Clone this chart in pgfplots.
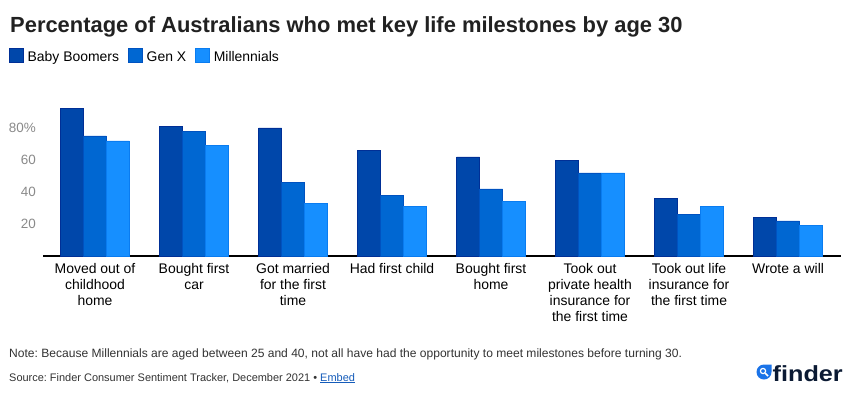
\documentclass[border=0pt]{standalone}
\usepackage{pgfplots}
\pgfplotsset{compat=1.18}
\usepackage{fontspec}
\setmainfont{Liberation Sans}
\frenchspacing
\newcommand\fs[2]{\fontsize{#1}{#2}\selectfont}
\definecolor{bb}{HTML}{0047AA}
\definecolor{bbE}{HTML}{002F96}
\definecolor{gx}{HTML}{0067D2}
\definecolor{gxE}{HTML}{0052C0}
\definecolor{ml}{HTML}{168FFF}
\definecolor{mlE}{HTML}{0A7CF0}
\definecolor{ticky}{HTML}{8A8A8A}
\definecolor{notec}{HTML}{333333}
\definecolor{navy}{HTML}{0B1A33}
\definecolor{logob}{HTML}{1A73E8}
\begin{document}
\begin{tikzpicture}[x=1bp,y=1bp]
\path[use as bounding box, fill=white] (0,0) rectangle (856,400);
\node[anchor=base west, inner sep=0pt, font=\fs{22}{26}\bfseries, text={black!87}] at (10,368) {Percentage of Australians who met key life milestones by age 30};
\begin{axis}[
  at={(43bp,144bp)}, anchor=south west,
  scale only axis, width=798bp, height=160bp,
  xmin=-0.525, xmax=7.535, ymin=0, ymax=100,
  enlargelimits=false,
  ybar=0pt, bar width=23bp,
  axis x line=bottom, axis y line=left,
  x axis line style={-, black, line width=1.2bp},
  y axis line style={draw=none},
  major tick length=0pt,
  xtick={0,...,7},
  xticklabels={Moved out of\\childhood\\home, Bought first\\car, Got married\\for the first\\time, Had first child, Bought first\\home, Took out\\private health\\insurance for\\the first time, Took out life\\insurance for\\the first time, Wrote a will},
  xticklabel style={anchor=north, inner sep=0pt, yshift=-7bp, align=center, font=\fs{14}{16.2}, text=black},
  ytick={20,40,60,80},
  yticklabels={20,40,60,80\%},
  yticklabel style={anchor=east, inner sep=0pt, xshift=-7bp, font=\fs{13.5}{16}, text=ticky},
  /pgf/number format/assume math mode=true,
  legend style={at={(-0.0426,1.30)}, anchor=north west, draw=none, fill=none, inner sep=0pt, outer sep=0pt, font=\fs{14}{16}, legend columns=-1,
    nodes={inner sep=0pt},
    /tikz/every even column/.append style={column sep=9bp}},
  legend image code/.code={\fill[#1] (0bp,-5bp) rectangle (14bp,9bp); \path (18bp,0bp);},
  clip=false,
]
\addplot[fill=bb, draw=bbE, line width=0.6bp] coordinates {(0,92) (1,81) (2,80) (3,66) (4,62) (5,60) (6,36) (7,24)};
\addplot[fill=gx, draw=gxE, line width=0.6bp] coordinates {(0,75) (1,78) (2,46) (3,38) (4,42) (5,52) (6,26) (7,22)};
\addplot[fill=ml, draw=mlE, line width=0.6bp] coordinates {(0,72) (1,69) (2,33) (3,31) (4,34) (5,52) (6,31) (7,19)};
\legend{Baby Boomers, Gen X, Millennials}
\end{axis}
\node[anchor=base west, inner sep=0pt, font=\fs{12.1}{14}, text=notec] at (9,43) {Note: Because Millennials are aged between 25 and 40, not all have had the opportunity to meet milestones before turning 30.};
\node[anchor=base west, inner sep=0pt, font=\fs{11}{13}, text=notec] at (9,19) {Source: Finder Consumer Sentiment Tracker, December 2021 \textbullet\ \textcolor{logob!80!black}{\underline{Embed}}};
% logo
\fill[logob] (771.5,28) -- (771.5,35.5) -- (764,35.5) arc[start angle=90, end angle=360, radius=7.5] -- cycle;
\draw[white, line width=1.2bp] (763,29) circle[radius=2.6];
\draw[white, line width=1.5bp] (765,27) -- (768,24);
\node[anchor=base west, inner sep=0pt, font=\fs{22}{24}\bfseries, text=navy, xscale=1.15] at (772.5,19) {finder};
\end{tikzpicture}
\end{document}
